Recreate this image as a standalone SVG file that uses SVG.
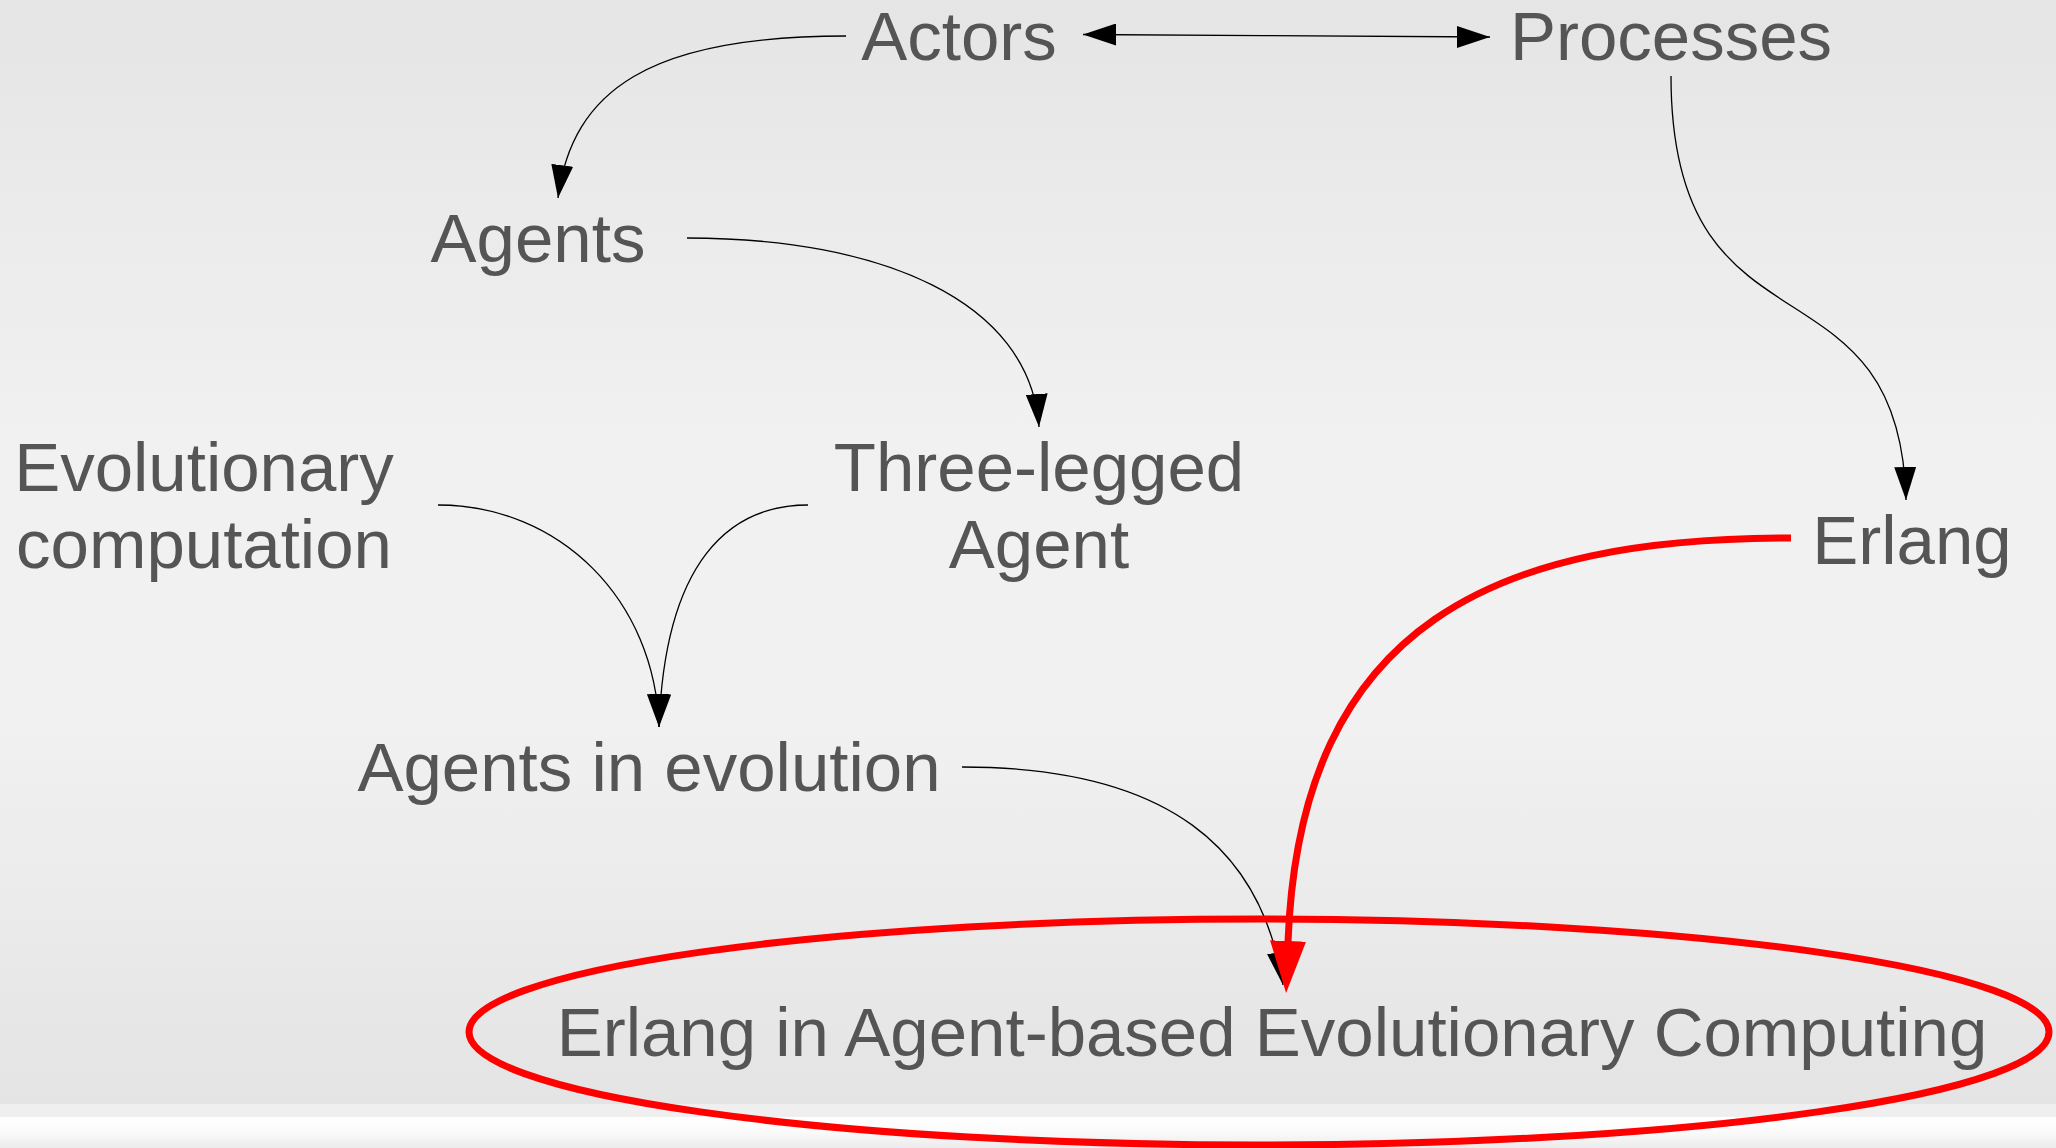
<svg xmlns="http://www.w3.org/2000/svg" width="2056" height="1148" viewBox="0 0 2056 1148">
<defs>
<style>
.lbl{font-family:"Liberation Sans",Arial,sans-serif;font-size:69px;fill:#555555;text-anchor:middle}
.con{fill:none;stroke:#000;stroke-width:1.3}
.hot{fill:none;stroke:#ff0000;stroke-width:7}
</style>
<linearGradient id="bg" x1="0" y1="0" x2="0" y2="1">
<stop offset="0" stop-color="#e5e5e5"/>
<stop offset="0.4" stop-color="#f1f1f1"/>
<stop offset="0.65" stop-color="#f1f1f1"/>
<stop offset="1" stop-color="#e4e4e4"/>
</linearGradient>
<linearGradient id="foot" x1="0" y1="0" x2="0" y2="1">
<stop offset="0" stop-color="#ffffff"/>
<stop offset="0.5" stop-color="#fafafa"/>
<stop offset="1" stop-color="#ebebeb"/>
</linearGradient>
<marker id="ah" markerUnits="userSpaceOnUse" markerWidth="33" markerHeight="22" viewBox="0 0 33 22" refX="33" refY="11" orient="auto-start-reverse">
<path d="M0,0 L33,11 L0,22 Z" fill="#000"/>
</marker>
<marker id="ahr" markerUnits="userSpaceOnUse" markerWidth="52" markerHeight="36" viewBox="0 0 52 36" refX="1" refY="18" orient="auto">
<path d="M0,0 L52,18 L0,36 Z" fill="#ff0000"/>
</marker>
</defs>
<rect x="0" y="0" width="2056" height="1104" fill="url(#bg)"/>
<rect x="0" y="1104" width="2056" height="13" fill="#efefef"/>
<rect x="0" y="1117" width="2056" height="31" fill="url(#foot)"/>

<g id="connectors">
<path class="con" d="M1083,34.5 C1250,34.5 1300,37 1490,37" marker-start="url(#ah)" marker-end="url(#ah)"/>
<path class="con" d="M846,36 C650,36 572,90 558,198" marker-end="url(#ah)"/>
<path class="con" d="M687,238 C880,238 1030,300 1039,427" marker-end="url(#ah)"/>
<path class="con" d="M1671,76 C1671,370 1900,245 1906,500" marker-end="url(#ah)"/>
<path class="con" d="M438,505 C560,505 655,600 659,727" marker-end="url(#ah)"/>
<path class="con" d="M808,505 C730,505 665,560 659,727" marker-end="url(#ah)"/>
<path class="con" d="M962,767 C1170,767 1262,850 1283,985" marker-end="url(#ah)"/>
<path class="hot" d="M1791,538 C1500,538 1300,620 1288,942" marker-end="url(#ahr)"/>
</g>

<g id="actors"><text class="lbl" x="959" y="60">Actors</text></g>
<g id="processes"><text class="lbl" x="1671" y="60">Processes</text></g>
<g id="agents"><text class="lbl" x="538" y="262">Agents</text></g>
<g id="evolutionary-computation"><text class="lbl" x="204" y="491">Evolutionary</text><text class="lbl" x="204" y="568">computation</text></g>
<g id="three-legged-agent"><text class="lbl" x="1039" y="491">Three-legged</text><text class="lbl" x="1039" y="568">Agent</text></g>
<g id="erlang"><text class="lbl" x="1912" y="564">Erlang</text></g>
<g id="agents-in-evolution"><text class="lbl" x="649" y="791">Agents in evolution</text></g>
<g id="erlang-abec">
<ellipse cx="1259" cy="1032" rx="790" ry="113" fill="none" stroke="#ff0000" stroke-width="7"/>
<text class="lbl" x="1272" y="1056">Erlang in Agent-based Evolutionary Computing</text>
</g>
</svg>
